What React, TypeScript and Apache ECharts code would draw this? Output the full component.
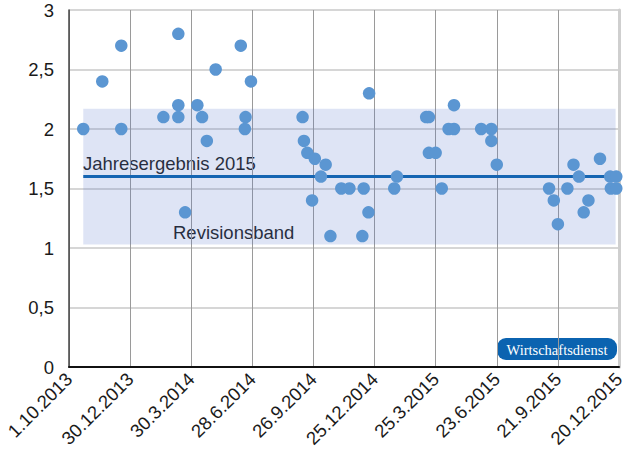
import React, { useEffect, useRef } from "react";
import * as echarts from "echarts";

// ---- data ----
const AXIS_START = "2013-10-01";
const AXIS_END = "2015-12-20";
const TICK_STEP_DAYS = 90;
const Y_MIN = 0;
const Y_MAX = 3;
const Y_STEP = 0.5;

const forecastDates = [
  "2013-10-22", "2013-11-19", "2013-12-17", "2013-12-17",
  "2014-02-17", "2014-03-11", "2014-03-11", "2014-03-11", "2014-03-21",
  "2014-04-08", "2014-04-15", "2014-04-22", "2014-05-05",
  "2014-06-11", "2014-06-17", "2014-06-18", "2014-06-26",
  "2014-09-10", "2014-09-12", "2014-09-17", "2014-09-24", "2014-09-28",
  "2014-10-07", "2014-10-14", "2014-10-21", "2014-11-06", "2014-11-18",
  "2014-12-07", "2014-12-09", "2014-12-16", "2014-12-17",
  "2015-01-23", "2015-01-27", "2015-03-11", "2015-03-15", "2015-03-15",
  "2015-03-25", "2015-04-03", "2015-04-13", "2015-04-21", "2015-04-21",
  "2015-05-31", "2015-06-15", "2015-06-15", "2015-06-23",
  "2015-09-08", "2015-09-15", "2015-09-21", "2015-10-05", "2015-10-14",
  "2015-10-22", "2015-10-29", "2015-11-05", "2015-11-22",
  "2015-12-07", "2015-12-08", "2015-12-16", "2015-12-16",
];
const forecastValues = [
  2.0, 2.4, 2.7, 2.0,
  2.1, 2.8, 2.2, 2.1, 1.3,
  2.2, 2.1, 1.9, 2.5,
  2.7, 2.0, 2.1, 2.4,
  2.1, 1.9, 1.8, 1.4, 1.75,
  1.6, 1.7, 1.1, 1.5, 1.5,
  1.1, 1.5, 1.3, 2.3,
  1.5, 1.6, 2.1, 2.1, 1.8,
  1.8, 1.5, 2.0, 2.0, 2.2,
  2.0, 2.0, 1.9, 1.7,
  1.5, 1.4, 1.2, 1.5, 1.7,
  1.6, 1.3, 1.4, 1.75,
  1.6, 1.5, 1.6, 1.5,
];

const annualResultLabel = "Jahresergebnis 2015";
const annualResultValue = 1.6;
const annualResultDates = ["2013-10-22", "2015-12-20"];

const bandLabel = "Revisionsband";
const bandDates = ["2013-10-22", "2015-12-15"];
const bandValues = [1.03, 2.17];

const sourceLabel = "Wirtschaftsdienst";

// ---- helpers ----
const DAY = 86400000;
const toMs = (s: string) => {
  const [y, m, d] = s.split("-").map(Number);
  return Date.UTC(y, m - 1, d);
};
const originMs = toMs(AXIS_START);
const toDay = (s: string) => Math.round((toMs(s) - originMs) / DAY);
const dayLabel = (v: number) => {
  const d = new Date(originMs + v * DAY);
  return `${d.getUTCDate()}.${d.getUTCMonth() + 1}.${d.getUTCFullYear()}`;
};

const FONT = "'Liberation Sans', Arial, Helvetica, sans-serif";

export default function App() {
  const ref = useRef<HTMLDivElement>(null);

  useEffect(() => {
    if (!ref.current) return;
    document.body.style.margin = "0";
    const chart = echarts.init(ref.current, undefined, { renderer: "svg" });

    const scatterData = forecastDates.map((d, i) => [toDay(d), forecastValues[i]]);

    chart.setOption({
      animation: false,
      grid: { left: 69, right: 11, top: 10, bottom: 90, containLabel: false },
      xAxis: {
        type: "value",
        min: 0,
        max: toDay(AXIS_END),
        interval: TICK_STEP_DAYS,
        axisLine: { show: true, onZero: false, lineStyle: { color: "#111", width: 2 } },
        axisTick: { show: false },
        axisLabel: {
          rotate: 45,
          margin: 9,
          fontSize: 18.5,
          fontFamily: FONT,
          color: "#1a1a1a",
          formatter: (v: number) => dayLabel(v),
        },
        splitLine: { show: true, lineStyle: { color: "#9a9a9a", width: 1 } },
      },
      yAxis: [
        {
          type: "value",
          min: Y_MIN,
          max: Y_MAX,
          interval: Y_STEP,
          axisLine: { show: true, lineStyle: { color: "#444", width: 1.5 } },
          axisTick: { show: false },
          axisLabel: {
            margin: 15,
            fontSize: 18.5,
            fontFamily: FONT,
            color: "#1a1a1a",
            formatter: (v: number) => String(v).replace(".", ","),
          },
          splitLine: { show: true, lineStyle: { color: "#c8c8c8", width: 1.5 } },
        },
        {
          type: "value",
          position: "right",
          min: Y_MIN,
          max: Y_MAX,
          interval: Y_STEP,
          axisLine: { show: true, lineStyle: { color: "#cfcfcf", width: 3 } },
          axisTick: { show: false },
          axisLabel: { show: false },
          splitLine: { show: false },
        },
      ],
      series: [
        {
          type: "scatter",
          data: [],
          z: 1,
          silent: true,
          markArea: {
            silent: true,
            itemStyle: { color: "rgba(92,122,205,0.2)" },
            data: [
              [
                { coord: [toDay(bandDates[0]), bandValues[0]] },
                { coord: [toDay(bandDates[1]), bandValues[1]] },
              ],
            ],
          },
        },
        {
          type: "line",
          z: 2,
          symbol: "none",
          data: annualResultDates.map((d) => [toDay(d), annualResultValue]),
          lineStyle: { color: "#1565b2", width: 3 },
        },
        {
          type: "scatter",
          z: 3,
          symbolSize: 12.5,
          itemStyle: { color: "#5b96d2", opacity: 1 },
          data: scatterData,
        },
      ],
      graphic: [
        {
          type: "text",
          left: 83,
          top: 154,
          style: { text: annualResultLabel, font: `18.5px ${FONT}`, fill: "#1a1a1a" },
        },
        {
          type: "text",
          left: 173,
          top: 223,
          style: { text: bandLabel, font: `18.5px ${FONT}`, fill: "#1a1a1a" },
        },
        {
          type: "group",
          left: 497,
          top: 338,
          children: [
            {
              type: "rect",
              shape: { x: 0, y: 0, width: 120, height: 22, r: 9 },
              style: { fill: "#0b63b0" },
            },
            {
              type: "text",
              x: 60,
              y: 11.5,
              style: {
                text: sourceLabel,
                font: "14.5px 'Liberation Serif', 'DejaVu Serif', serif",
                fill: "#ffffff",
                align: "center",
                verticalAlign: "middle",
              },
            },
          ],
        },
      ],
    });

    return () => chart.dispose();
  }, []);

  return <div ref={ref} style={{ width: 630, height: 457 }} />;
}
